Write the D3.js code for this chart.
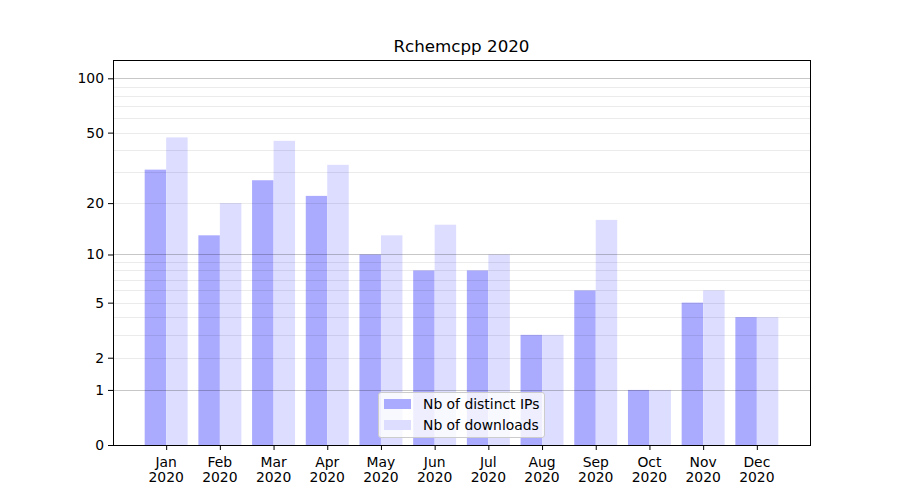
<!DOCTYPE html>
<html><head><meta charset="utf-8">
<script src="https://cdn.jsdelivr.net/npm/d3@7"></script>
<style>body{margin:0;background:#fff}svg{font-family:"DejaVu Sans",sans-serif}</style>
</head><body><svg id="c" width="900" height="500"></svg>
<script>
const months = ["Jan","Feb","Mar","Apr","May","Jun","Jul","Aug","Sep","Oct","Nov","Dec"];
const yearLabel = "2020";
const distinctIPs = [31,13,27,22,10,8,8,3,6,1,5,4];
const downloads = [47,20,45,33,13,15,10,3,16,1,6,4];
const majorTicks = [0,1,2,5,10,20,50,100];
const majorGrid = [1,10,100];
const minorGrid = [2,3,4,5,6,7,8,9,20,30,40,50,60,70,80,90];
const seriesNames = ["Nb of distinct IPs","Nb of downloads"];
const colors = ["#aaaaff","#ddddff"];
const title = "Rchemcpp 2020";

const svg = d3.select("#c");
const L=113,R=810,T=60,B=445;
const x = d3.scaleLinear().domain([-0.99,11.99]).range([L,R]);
const y = d3.scaleSymlog().constant(1).domain([0,126.2]).range([B,T]);
const bw = 0.4;
const FS = 13.9;

const g = svg.append("g");
months.forEach((m,i)=>{
  g.append("rect").attr("x",x(i-bw)).attr("width",x(bw)-x(0)).attr("y",y(distinctIPs[i])).attr("height",B-y(distinctIPs[i])).attr("fill",colors[0]);
  g.append("rect").attr("x",x(i)).attr("width",x(bw)-x(0)).attr("y",y(downloads[i])).attr("height",B-y(downloads[i])).attr("fill",colors[1]);
});
// grid
svg.append("g").selectAll("line").data(minorGrid).join("line")
  .attr("x1",L).attr("x2",R).attr("y1",d=>Math.round(y(d))+0.5).attr("y2",d=>Math.round(y(d))+0.5)
  .attr("stroke","#000").attr("stroke-opacity",0.08).attr("stroke-width",1);
svg.append("g").selectAll("line").data(majorGrid).join("line")
  .attr("x1",L).attr("x2",R).attr("y1",d=>Math.round(y(d))+0.5).attr("y2",d=>Math.round(y(d))+0.5)
  .attr("stroke","#000").attr("stroke-opacity",0.22).attr("stroke-width",1);

// axes
const ya = d3.axisLeft(y).tickValues(majorTicks).tickFormat(d3.format("d")).tickSize(5).tickPadding(4);
const yg = svg.append("g").attr("transform",`translate(${L},0)`).call(ya);
yg.select(".domain").remove();
yg.selectAll("text").attr("font-size",FS).attr("fill","#000").attr("font-family","DejaVu Sans");
yg.selectAll("line").attr("stroke","#000");
const xa = d3.axisBottom(x).tickValues(d3.range(12)).tickFormat("").tickSize(5);
const xg = svg.append("g").attr("transform",`translate(0,${B})`).call(xa);
xg.select(".domain").remove();
xg.selectAll("line").attr("stroke","#000");
months.forEach((m,i)=>{
  const t = svg.append("text").attr("x",x(i)).attr("y",466.5).attr("text-anchor","middle").attr("font-size",FS).attr("fill","#000");
  t.append("tspan").attr("x",x(i)).text(m);
  t.append("tspan").attr("x",x(i)).attr("dy",15.5).text(yearLabel);
});
// frame
svg.append("rect").attr("x",L).attr("y",T).attr("width",R-L).attr("height",B-T).attr("fill","none").attr("stroke","#000").attr("stroke-width",1).attr("shape-rendering","crispEdges");

// title
svg.append("text").attr("x",(L+R)/2).attr("y",52).attr("text-anchor","middle").attr("font-size",16.7).attr("fill","#000").text(title);

// legend
const lg = svg.append("g");
lg.append("rect").attr("x",378.5).attr("y",392.5).attr("width",166).attr("height",45).attr("rx",2.5)
  .attr("fill","#fff").attr("fill-opacity",0.8).attr("stroke","#cccccc");
seriesNames.forEach((s,i)=>{
  lg.append("rect").attr("x",384).attr("y",399+i*21).attr("width",27).attr("height",10).attr("fill",colors[i]);
  lg.append("text").attr("x",423).attr("y",409+i*21).attr("font-size",FS).attr("fill","#000").text(s);
});
</script></body></html>
